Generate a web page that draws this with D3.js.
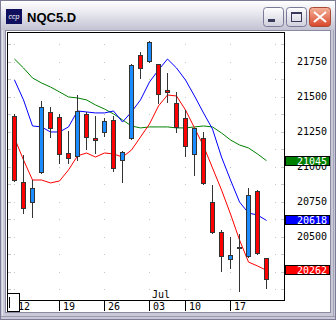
<!DOCTYPE html>
<html>
<head>
<meta charset="utf-8">
<script src="https://cdn.jsdelivr.net/npm/d3@7"></script>
<style>
body { margin: 0; background: #fff; }
svg { display: block; }
</style>
</head>
<body>
<script>
// trading days, 12 Jun .. 21 Jul (no 4 Jul)
var days = [12,13,14,15,16,19,20,21,22,23,26,27,28,29,30,3,5,6,7,10,11,12,13,14,17,18,19,20,21];
var opens  = [21364,20893,20750,20964,21393,21357,21100,21079,21379,21207,21250,21336,21050,21207,21800,21757,21736,21550,21457,21350,21093,21207,20750,20536,20343,20430,20364,20829,20350];
var highs  = [21379,21086,20907,21471,21429,21379,21257,21514,21393,21364,21350,21364,21114,21736,21821,21900,21736,21671,21536,21407,21279,21250,20871,20550,20500,20521,20850,20836,20350];
var lows   = [20900,20671,20643,20957,21214,21029,21029,21050,21129,21100,21221,20971,20893,21200,21636,21750,21457,21464,21250,21079,20943,20879,20529,20257,20279,20114,20357,20379,20136];
var closes = [20907,20707,20850,21429,21279,21093,21064,21400,21214,21193,21329,20993,21107,21729,21707,21893,21521,21536,21286,21150,21279,20886,20536,20364,20371,20430,20800,20386,20200];

var maRed   = [21207,21050,20907,20907,20886,20900,20979,21079,21100,21071,21100,21093,21071,21121,21214,21307,21436,21514,21507,21407,21279,21150,20993,20836,20664,20479,20321,20293,20262];
var maBlue  = [21621,21479,21293,21286,21250,21250,21286,21400,21393,21386,21386,21400,21321,21393,21479,21607,21693,21771,21707,21621,21507,21386,21271,21071,20907,20750,20671,20657,20618];
var maGreen = [21771,21707,21636,21600,21571,21536,21500,21493,21479,21443,21414,21379,21336,21293,21279,21286,21286,21286,21279,21279,21286,21293,21286,21243,21193,21157,21136,21093,21045];

var tickIdx = [0,5,10,15,19,24];
var tickLabels = ["12","19","26","03","10","17"];
var gridIdx = [0,5,10,15,19,24,29];
var priceTicks = [20250,20500,20750,21000,21250,21500,21750];
var gridPrices = [20125,20250,20375,20500,20625,20750,20875,21000,21125,21250,21375,21500,21625,21750,21875];
var lastVals = [21045, 20618, 20262];
var lastCols = ["#008000", "#0000ff", "#ff0000"];

var W = 336, H = 320;
var svg = d3.select("body").append("svg").attr("width", W).attr("height", H);
var defs = svg.append("defs");

// window frame
var tg = defs.append("linearGradient").attr("id", "tg").attr("x1", 0).attr("y1", 0).attr("x2", 0).attr("y2", 1);
tg.append("stop").attr("offset", "0%").attr("stop-color", "#ffffff");
tg.append("stop").attr("offset", "45%").attr("stop-color", "#e6e6ee");
tg.append("stop").attr("offset", "100%").attr("stop-color", "#c2c2d2");
var bg = defs.append("linearGradient").attr("id", "bg").attr("x1", 0).attr("y1", 0).attr("x2", 0).attr("y2", 1);
bg.append("stop").attr("offset", "0%").attr("stop-color", "#ffffff");
bg.append("stop").attr("offset", "100%").attr("stop-color", "#cfcfdd");
var cg = defs.append("linearGradient").attr("id", "cg").attr("x1", 0).attr("y1", 0).attr("x2", 0).attr("y2", 1);
cg.append("stop").attr("offset", "0%").attr("stop-color", "#f4b39a");
cg.append("stop").attr("offset", "100%").attr("stop-color", "#d8462a");

svg.append("rect").attr("width", W).attr("height", H).attr("fill", "#c8c8d6");
svg.append("rect").attr("x", 0.5).attr("y", 0.5).attr("width", W - 1).attr("height", H - 1)
  .attr("fill", "none").attr("stroke", "#7c7c96");
svg.append("rect").attr("x", 1).attr("y", 1).attr("width", W - 2).attr("height", 29).attr("fill", "url(#tg)");
svg.append("line").attr("x1", 1).attr("x2", W - 1).attr("y1", 316.5).attr("y2", 316.5).attr("stroke", "#9a9ab0");
svg.append("line").attr("x1", 2.5).attr("x2", 2.5).attr("y1", 30).attr("y2", 316).attr("stroke", "#e4e4ee");
svg.append("line").attr("x1", 333.5).attr("x2", 333.5).attr("y1", 30).attr("y2", 316).attr("stroke", "#a4a4ba");

// icon + title
svg.append("rect").attr("x", 6).attr("y", 9).attr("width", 16).attr("height", 15).attr("fill", "#10105e");
svg.append("text").attr("x", 14).attr("y", 19).attr("text-anchor", "middle")
  .attr("font-family", "Liberation Sans, Arial, sans-serif").attr("font-size", "7px")
  .attr("font-style", "italic").attr("fill", "#fff").text("ccp");
svg.append("text").attr("x", 27).attr("y", 22)
  .attr("font-family", "Liberation Sans, Arial, sans-serif").attr("font-size", "13px")
  .attr("font-weight", "bold").attr("fill", "#000").text("NQC5.D");

// buttons
svg.append("rect").attr("x", 263.5).attr("y", 7.5).attr("width", 20).attr("height", 19).attr("rx", 3)
  .attr("fill", "url(#bg)").attr("stroke", "#7a7a98");
svg.append("rect").attr("x", 268).attr("y", 19).attr("width", 7).attr("height", 3).attr("fill", "#3a3a5a");
svg.append("rect").attr("x", 286.5).attr("y", 7.5).attr("width", 20).attr("height", 19).attr("rx", 3)
  .attr("fill", "url(#bg)").attr("stroke", "#7a7a98");
svg.append("rect").attr("x", 291.5).attr("y", 12.5).attr("width", 10).attr("height", 9)
  .attr("fill", "none").attr("stroke", "#3a3a5a");
svg.append("rect").attr("x", 291).attr("y", 12).attr("width", 11).attr("height", 2).attr("fill", "#3a3a5a");
svg.append("rect").attr("x", 309.5).attr("y", 7.5).attr("width", 21).attr("height", 19).attr("rx", 3)
  .attr("fill", "url(#cg)").attr("stroke", "#a84a34");
svg.append("path").attr("d", "M314,12L326,22M326,12L314,22")
  .attr("stroke", "#fff").attr("stroke-width", 2);

// client area
svg.append("rect").attr("x", 5.5).attr("y", 30.5).attr("width", 325).attr("height", 282)
  .attr("fill", "#fff").attr("stroke", "#8a8aa0");

// scales
var x = d3.scaleLinear().domain([0, 28]).range([14, 266]);
var y = d3.scaleLinear().domain([20050, 21964]).range([300, 32]);
function px(i) { return Math.round(x(i)); }
function py(v) { return Math.round(y(v)); }

var font = "DejaVu Sans Mono, Liberation Mono, monospace";

// grid dots
var dots = [];
gridIdx.forEach(function(i) {
  gridPrices.forEach(function(p) { dots.push([px(i), py(p)]); });
});
svg.append("g").selectAll("rect").data(dots).enter().append("rect")
  .attr("x", function(d) { return d[0]; }).attr("y", function(d) { return d[1]; })
  .attr("width", 1).attr("height", 1).attr("fill", "#c4c4c4");

// inner ticks on plot borders
var edge = svg.append("g").attr("stroke", "#c8c8c8");
edge.selectAll("line.l").data(gridPrices).enter().append("line")
  .attr("x1", 8).attr("x2", 11)
  .attr("y1", function(d) { return py(d) + 0.5; }).attr("y2", function(d) { return py(d) + 0.5; });
edge.selectAll("line.r").data(gridPrices).enter().append("line")
  .attr("x1", 281).attr("x2", 284)
  .attr("y1", function(d) { return py(d) + 0.5; }).attr("y2", function(d) { return py(d) + 0.5; });

// moving averages
var line = d3.line().x(function(d, i) { return px(i) + 0.5; }).y(function(d) { return y(d); });
[[maGreen, "#008000"], [maBlue, "#0000ff"], [maRed, "#ff0000"]].forEach(function(m) {
  svg.append("path").datum(m[0]).attr("d", line)
    .attr("fill", "none").attr("stroke", m[1]).attr("stroke-width", 1);
});

// candles
var candles = svg.append("g");
days.forEach(function(d, i) {
  var cx = px(i);
  candles.append("line").attr("x1", cx + 0.5).attr("x2", cx + 0.5)
    .attr("y1", py(highs[i])).attr("y2", py(lows[i]) + 1)
    .attr("stroke", "#333").attr("stroke-width", 1);
  var top = py(Math.max(opens[i], closes[i]));
  var bot = py(Math.min(opens[i], closes[i]));
  var col = closes[i] > opens[i] ? "#1a8cff" : (closes[i] < opens[i] ? "#ff0000" : "#333");
  candles.append("rect").attr("x", cx - 1.5).attr("y", top + 0.5)
    .attr("width", 4).attr("height", Math.max(1, bot - top))
    .attr("fill", col).attr("stroke", "#333").attr("stroke-width", 1);
});

// plot border
svg.append("rect").attr("x", 7.5).attr("y", 32.5).attr("width", 277).attr("height", 268)
  .attr("fill", "none").attr("stroke", "#000");

// price labels
svg.append("g").selectAll("text").data(priceTicks).enter().append("text")
  .attr("x", 327).attr("y", function(d) { return y(d) + 3.5; })
  .attr("text-anchor", "end").attr("font-family", font).attr("font-size", "10px")
  .attr("fill", "#000").text(function(d) { return d; });

// last value boxes
lastVals.forEach(function(v, k) {
  svg.append("rect").attr("x", 285.5).attr("y", py(v) - 4.5).attr("width", 44).attr("height", 9)
    .attr("fill", lastCols[k]).attr("stroke", "#000");
  svg.append("text").attr("x", 327).attr("y", py(v) + 4)
    .attr("text-anchor", "end").attr("font-family", font).attr("font-size", "10px")
    .attr("fill", "#fff").text(v);
});

// date axis
var xa = svg.append("g");
xa.append("line").attr("x1", 7).attr("x2", 285).attr("y1", 300.5).attr("y2", 300.5).attr("stroke", "#000");
tickIdx.forEach(function(i, k) {
  xa.append("line").attr("x1", px(i) + 0.5).attr("x2", px(i) + 0.5)
    .attr("y1", 301).attr("y2", 311).attr("stroke", "#000");
  xa.append("text").attr("x", px(i) + 4).attr("y", 310)
    .attr("font-family", font).attr("font-size", "10px").attr("fill", "#000")
    .text(tickLabels[k]);
});
svg.append("text").attr("x", px(15) + 3).attr("y", 298)
  .attr("font-family", font).attr("font-size", "10px").attr("fill", "#000").text("Jul");

// scroll box
svg.append("rect").attr("x", 7.5).attr("y", 293.5).attr("width", 12).attr("height", 18)
  .attr("fill", "#fff").attr("stroke", "#000");
svg.append("line").attr("x1", 9.5).attr("x2", 9.5).attr("y1", 297).attr("y2", 308).attr("stroke", "#000");
</script>
</body>
</html>
